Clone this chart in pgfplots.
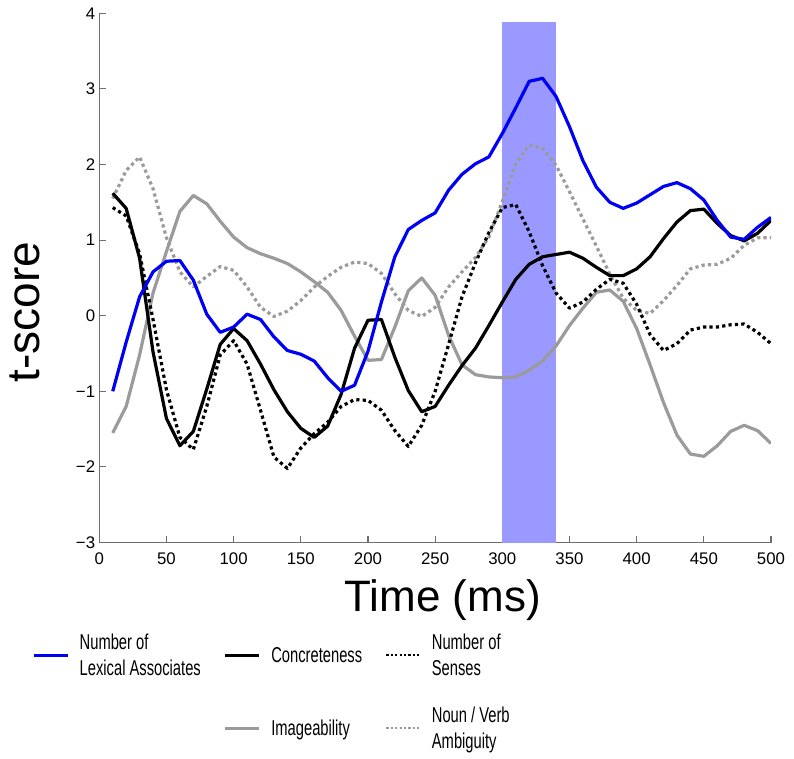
\documentclass[border=0pt]{standalone}
\usepackage{pgfplots}
\usepackage{pgfplotstable}
\pgfplotsset{compat=1.18}
\usepackage{fontspec}
\setmainfont{Liberation Sans}
\newfontfamily\legfont{Liberation Sans}[FakeStretch=0.685]
\definecolor{shade}{RGB}{153,153,255}
\definecolor{lgray}{RGB}{155,155,155}
\definecolor{pblue}{RGB}{0,0,245}
\definecolor{axgray}{RGB}{110,110,110}

\pgfplotstableread{
t blue conc senses image nv
10 -1.00 1.62 1.43 -1.55 1.55
20 -0.35 1.42 1.32 -1.20 1.92
30 0.25 0.76 0.82 -0.52 2.10
40 0.58 -0.48 -0.05 0.30 1.68
50 0.72 -1.36 -0.98 0.85 1.03
60 0.73 -1.72 -1.61 1.38 0.58
70 0.47 -1.53 -1.77 1.59 0.38
80 0.02 -0.97 -1.20 1.48 0.52
90 -0.22 -0.38 -0.52 1.25 0.65
100 -0.15 -0.17 -0.33 1.04 0.60
110 0.02 -0.33 -0.64 0.90 0.38
120 -0.05 -0.64 -1.25 0.82 0.11
130 -0.28 -0.98 -1.87 0.76 -0.01
140 -0.46 -1.27 -2.02 0.69 0.06
150 -0.51 -1.49 -1.75 0.58 0.20
160 -0.60 -1.61 -1.56 0.45 0.38
170 -0.82 -1.46 -1.41 0.31 0.52
180 -1.00 -1.04 -1.20 0.07 0.64
190 -0.92 -0.43 -1.11 -0.27 0.71
200 -0.47 -0.06 -1.12 -0.59 0.69
210 0.18 -0.05 -1.25 -0.58 0.56
220 0.78 -0.55 -1.52 -0.15 0.29
230 1.14 -0.99 -1.73 0.33 0.07
240 1.26 -1.27 -1.45 0.50 -0.01
250 1.36 -1.20 -1.00 0.27 0.11
260 1.66 -0.92 -0.38 -0.26 0.38
270 1.87 -0.66 0.25 -0.65 0.58
280 2.01 -0.43 0.70 -0.78 0.77
290 2.10 -0.13 1.10 -0.81 1.04
300 2.41 0.18 1.43 -0.82 1.51
310 2.75 0.48 1.47 -0.81 2.01
320 3.10 0.68 1.11 -0.72 2.26
330 3.14 0.78 0.66 -0.60 2.21
340 2.90 0.81 0.30 -0.40 1.99
350 2.50 0.84 0.10 -0.13 1.64
360 2.05 0.76 0.18 0.10 1.28
370 1.70 0.64 0.35 0.31 0.92
380 1.50 0.53 0.48 0.34 0.55
390 1.42 0.53 0.43 0.19 0.23
400 1.49 0.62 0.15 -0.17 0.07
410 1.60 0.78 -0.25 -0.65 0.03
420 1.71 1.02 -0.46 -1.15 0.20
430 1.76 1.24 -0.37 -1.58 0.40
440 1.68 1.39 -0.19 -1.83 0.62
450 1.53 1.41 -0.15 -1.86 0.67
460 1.26 1.22 -0.15 -1.72 0.68
470 1.04 1.06 -0.12 -1.53 0.76
480 1.01 0.99 -0.11 -1.45 0.93
490 1.17 1.09 -0.22 -1.52 1.03
500 1.30 1.26 -0.37 -1.69 1.03
}\data

\begin{document}
\begin{tikzpicture}
\path[use as bounding box] (-99.3pt,-215.5pt) rectangle (694.7pt,542.5pt);
\begin{axis}[
  at={(0pt,0pt)}, anchor=south west,
  scale only axis, width=671.7pt, height=529.2pt,
  xmin=0, xmax=500, ymin=-3, ymax=4,
  axis lines=left,
  axis line style={-, draw=axgray, line width=1.1pt},
  tick style={draw=axgray, line width=1.1pt},
  tick align=inside, major tick length=7pt,
  xtick={0,50,...,500},
  xticklabels={0,50,100,150,200,250,300,350,400,450,500},
  ytick={-3,-2,...,4},
  yticklabels={−3,−2,−1,0,1,2,3,4},
  ticklabel style={font=\fontsize{16.8}{20}\selectfont, text=black},
  xticklabel style={inner sep=0pt, yshift=-10pt},
  yticklabel style={inner sep=0pt, xshift=-4pt},
  xlabel={Time (ms)},
  ylabel={t-score},
  xlabel style={font=\fontsize{44}{52}\selectfont, at={(axis description cs:0.511,-0.1313)}, anchor=base},
  ylabel style={font=\fontsize{46}{54}\selectfont, at={(axis description cs:-0.0883,0.4356)}, anchor=base},
  legend columns=3,
  legend cell align=left,
  legend image code/.code={\draw[#1] (0pt,0pt) -- (34pt,0pt);},
  legend style={
    draw=none, fill=none, inner sep=0pt,
    at={(axis description cs:-0.1002,-0.172)}, anchor=north west,
    font=\legfont\fontsize{21.5}{26}\selectfont,
    nodes={inner sep=0pt},
    cells={align=left},
    row sep=30pt,
    /tikz/every odd column/.append style={column sep=10.5pt},
    /tikz/every even column/.append style={column sep=23pt},
  },
  every axis plot/.append style={line width=3.2pt, line join=round},
]
\addplot[fill=shade, draw=none, forget plot] coordinates {(300,-3) (340,-3) (340,3.88) (300,3.88)} -- cycle;

\addplot[lgray, forget plot] table[x=t, y=image] {\data};
\addplot[lgray, dash pattern=on 3.2pt off 3.2pt, forget plot] table[x=t, y=nv] {\data};
\addplot[black, dash pattern=on 3.2pt off 3.2pt, forget plot] table[x=t, y=senses] {\data};
\addplot[black, forget plot] table[x=t, y=conc] {\data};
\addplot[pblue, forget plot] table[x=t, y=blue] {\data};

\addlegendimage{pblue, line width=3pt}
\addlegendentry{Number of\\Lexical Associates}
\addlegendimage{black, line width=3pt}
\addlegendentry{Concreteness}
\addlegendimage{black, line width=2.2pt, dash pattern=on 2.2pt off 2.2pt}
\addlegendentry{Number of\\Senses}
\addlegendimage{empty legend}
\addlegendentry{}
\addlegendimage{lgray, line width=3pt}
\addlegendentry{Imageability}
\addlegendimage{lgray, line width=2.2pt, dash pattern=on 2.2pt off 2.2pt}
\addlegendentry{Noun / Verb\\Ambiguity}
\end{axis}
\end{tikzpicture}
\end{document}
